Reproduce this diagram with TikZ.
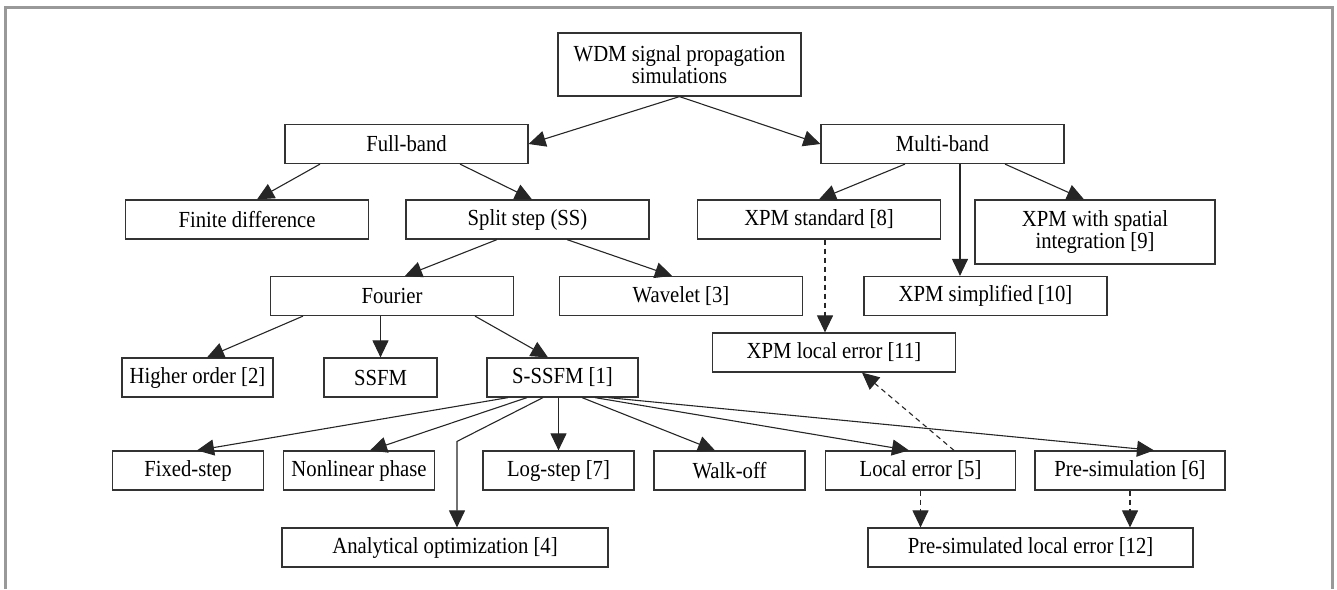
\documentclass[tikz,border=0pt]{standalone}
\usepackage{fontspec}
\setmainfont[FakeStretch=0.9]{Liberation Serif}
\usetikzlibrary{arrows.meta}

\begin{document}
\begin{tikzpicture}[x=0.5pt,y=-0.5pt,
        box/.style={draw=black!80, line width=0.6pt, inner sep=0pt, align=center,
            font=\rmfamily\fontsize{11.5}{11}\selectfont, minimum height=19.5pt, minimum width=121.5pt},
        small/.style={box, minimum width=75.5pt},
        arr/.style={-{Triangle[length=8.5pt,width=8pt]}, line width=0.55pt, black!85},
        darr/.style={arr, dash pattern=on 2.5pt off 2pt}]
    \useasboundingbox (0,0) rectangle (1337,589);
    \draw[gray!80, line width=1.5pt] (5,589) -- (5,7) -- (1332,7) -- (1332,589);

    % boxes
    \node[box, minimum height=31.5pt] (wdm) at (679.5,64.5) {WDM signal propagation\\simulations};
    \node[box] (fullband) at (406.5,144) {Full-band};
    \node[box] (multiband) at (942.5,144) {Multi-band};
    \node[box] (finite) at (247,219.5) {Finite difference};
    \node[box] (split) at (527.5,219.5) {Split step (SS)};
    \node[box] (xpmstd) at (819,219.5) {XPM standard [8]};
    \node[box, minimum width=120pt, minimum height=32pt] (xpmspat) at (1095,232) {XPM with spatial\\integration [9]};
    \node[box] (fourier) at (392,296) {Fourier};
    \node[box] (wavelet) at (681,296) {Wavelet [3]};
    \node[box] (xpmsimp) at (985.5,296) {XPM simplified [10]};
    \node[box] (xpmloc) at (834,352.5) {XPM local error [11]};
    \node[small] (higher) at (197.5,377.5) {Higher order [2]};
    \node[box, minimum width=56.5pt] (ssfm) at (380.5,377.5) {SSFM};
    \node[small] (sssfm) at (562.5,377.5) {S-SSFM [1]};
    \node[small] (fixed) at (188,470.5) {Fixed-step};
    \node[small] (nonlin) at (359,470.5) {Nonlinear phase};
    \node[small] (logstep) at (558.5,470.5) {Log-step [7]};
    \node[small] (walkoff) at (729.5,470.5) {Walk-off};
    \node[box, minimum width=95pt] (localerr) at (920.5,470.5) {Local error [5]};
    \node[box, minimum width=95pt] (presim) at (1130,470.5) {Pre-simulation [6]};
    \node[box, minimum width=163pt] (analytic) at (445,547.5) {Analytical optimization [4]};
    \node[box, minimum width=162.5pt] (presimerr) at (1030.5,547.5) {Pre-simulated local error [12]};
    \coordinate (bend) at ([xshift=6pt,yshift=43pt]analytic.north);

    % solid arrows
    \draw[arr] (wdm.south) -- (fullband.east);
    \draw[arr] (wdm.south) -- (multiband.west);
    \draw[arr] ([xshift=-43.25pt]fullband.south) -- ([xshift=5pt]finite.north);
    \draw[arr] ([xshift=26.75pt]fullband.south) -- ([xshift=2.25pt]split.north);
    \draw[arr] ([xshift=-18.75pt]multiband.south) -- (xpmstd.north);
    \draw[arr] ([xshift=8.75pt]multiband.south) -- ([xshift=8.75pt]multiband.south |- xpmsimp.north);
    \draw[arr] ([xshift=31.25pt]multiband.south) -- ([xshift=-5.5pt]xpmspat.north);
    \draw[arr] ([xshift=-15.25pt]split.south) -- ([xshift=6.5pt]fourier.north);
    \draw[arr] ([xshift=19.75pt]split.south) -- ([xshift=-4.5pt]wavelet.north);
    \draw[arr] ([xshift=-44.5pt]fourier.south) -- ([xshift=4.75pt]higher.north);
    \draw[arr] (fourier.south -| ssfm.north) -- (ssfm.north);
    \draw[arr] ([xshift=41.5pt]fourier.south) -- ([xshift=-7.25pt]sssfm.north);
    \draw[arr] ([xshift=-27.25pt]sssfm.south) -- ([xshift=4.5pt]fixed.north);
    \draw[arr] ([xshift=-17.75pt]sssfm.south) -- ([xshift=5.5pt]nonlin.north);
    \draw[arr] ([xshift=-9.75pt]sssfm.south) -- (bend) -- (bend |- analytic.north);
    \draw[arr] (sssfm.south -| logstep.north) -- (logstep.north);
    \draw[arr] ([xshift=9.75pt]sssfm.south) -- ([xshift=-7.25pt]walkoff.north);
    \draw[arr] ([xshift=16.25pt]sssfm.south) -- ([xshift=-5.75pt]localerr.north);
    \draw[arr] ([xshift=22.75pt]sssfm.south) -- ([xshift=12pt]presim.north);

    % dashed arrows
    \draw[darr] ([xshift=3pt]xpmstd.south) -- ([xshift=3pt]xpmstd.south |- xpmloc.north);
    \draw[darr] ([xshift=16.75pt]localerr.north) -- ([xshift=14pt]xpmloc.south);
    \draw[darr] (localerr.south) -- (localerr.south |- presimerr.north);
    \draw[darr] (presim.south) -- (presim.south |- presimerr.north);
\end{tikzpicture}
\end{document}
